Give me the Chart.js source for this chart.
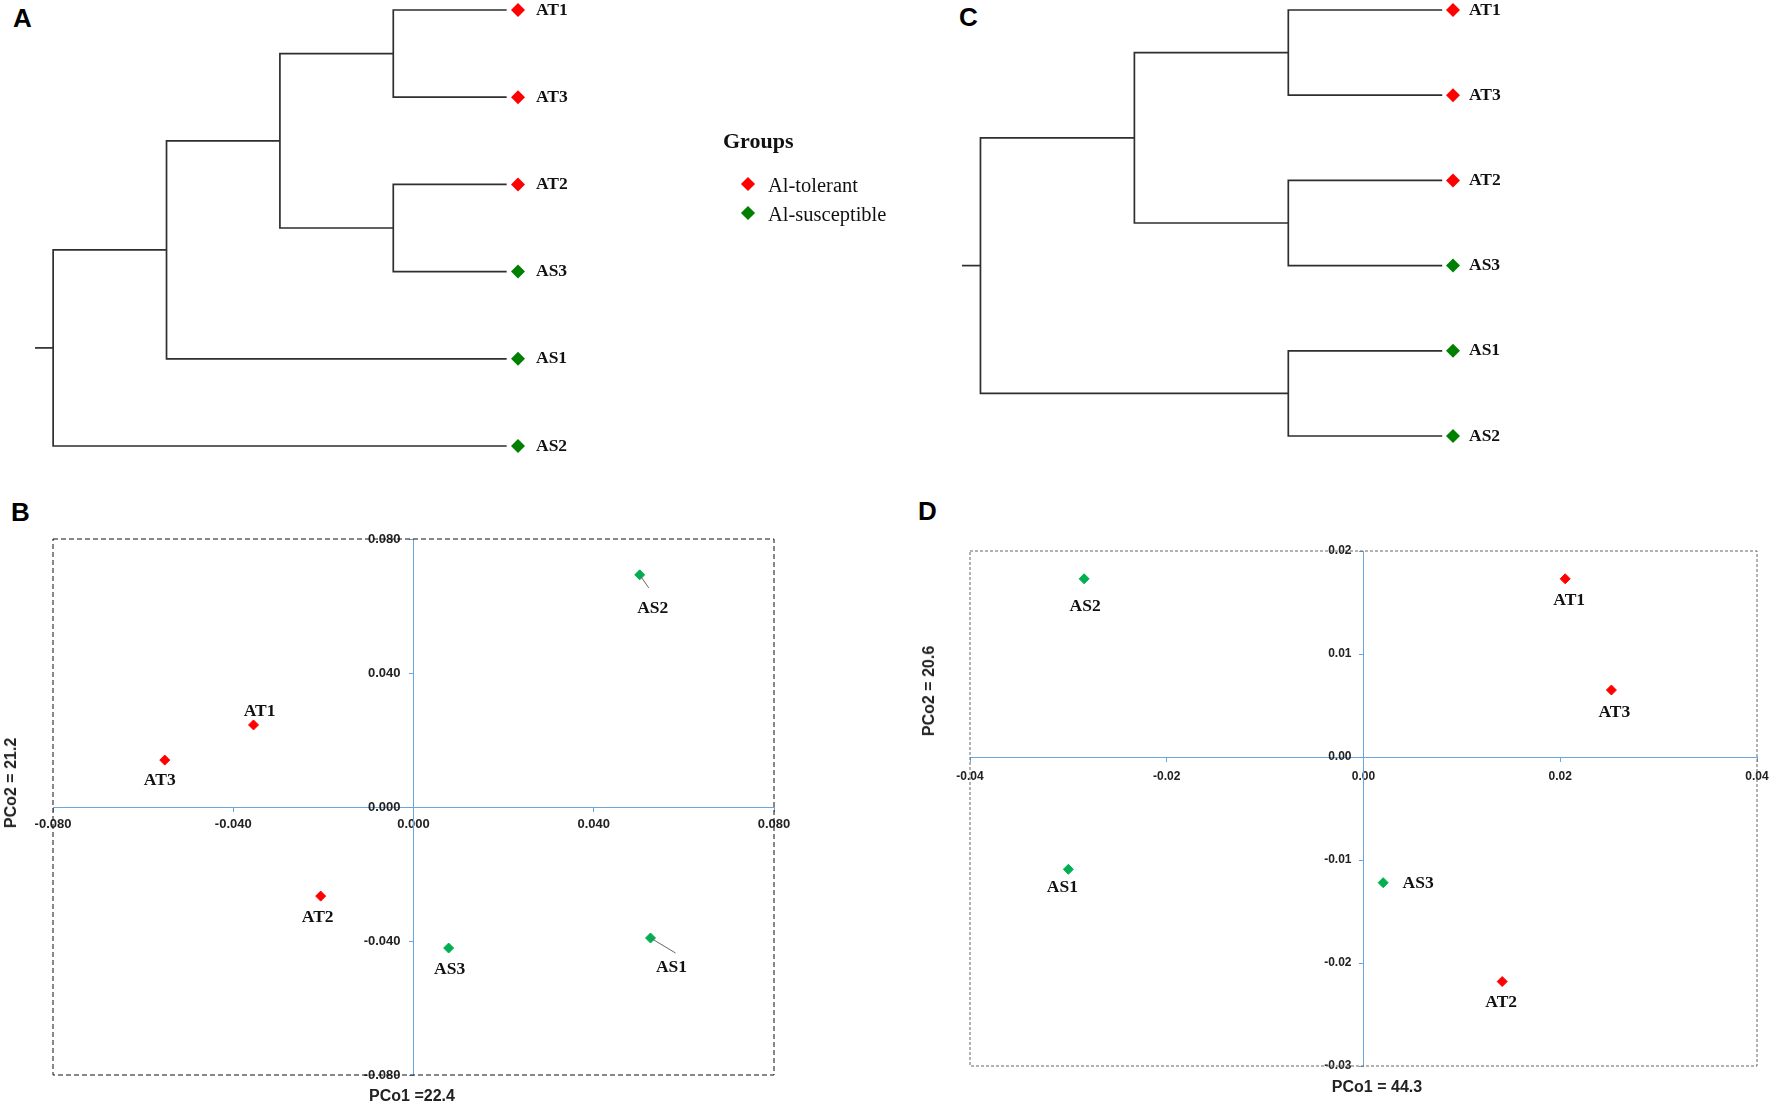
<!DOCTYPE html>
<html>
<head>
<meta charset="utf-8">
<script src="https://cdn.jsdelivr.net/npm/chart.js"></script>
<style>
  body { margin: 0; background: #fff; width: 1772px; height: 1105px; overflow: hidden; position: relative; }
  canvas { position: absolute; }
  .tag { position: absolute; font: bold 26px 'Liberation Sans', Arial, sans-serif; line-height: 26px; color: #000; }
  .ttl { position: absolute; font: bold 16px 'Liberation Sans', Arial, sans-serif; line-height: 1; color: #222; white-space: nowrap; transform: translate(-50%, -50%); }
  .ttl.rot { transform: translate(-50%, -50%) rotate(-90deg); }
  #groupsBox { position: absolute; left: 723px; top: 128px; width: 200px; font-family: 'Liberation Serif', 'Times New Roman', serif; color: #111; }
  #groupsBox .head { font-weight: bold; font-size: 22px; line-height: 26px; height: 42px; }
  #groupsBox .row { position: relative; height: 29px; line-height: 29px; font-size: 20.5px; }
  #groupsBox .mk { position: absolute; left: 20px; top: 9px; width: 10px; height: 10px; transform: rotate(45deg); }
  #groupsBox .tx { position: absolute; left: 45px; top: 1px; white-space: nowrap; }
</style>
</head>
<body>
<div class="tag" style="left:13px;top:5px">A</div>
<div class="tag" style="left:959px;top:4px">C</div>
<div class="tag" style="left:11px;top:499px">B</div>
<div class="tag" style="left:918px;top:498px">D</div>

<canvas id="dendroA" width="588" height="466" style="left:0;top:0"></canvas>
<canvas id="dendroC" width="583" height="456" style="left:940px;top:0"></canvas>
<canvas id="groups" width="10" height="10" style="left:723px;top:128px"></canvas>
<div id="groupsBox"></div>
<canvas id="pcoaB" width="801" height="596" style="left:13px;top:509px"></canvas>
<canvas id="pcoaD" width="842" height="575" style="left:930px;top:521px"></canvas>

<div class="ttl" style="left:412px;top:1096px">PCo1 =22.4</div>
<div class="ttl rot" style="left:11px;top:783px">PCo2 = 21.2</div>
<div class="ttl" style="left:1377px;top:1087px">PCo1 = 44.3</div>
<div class="ttl rot" style="left:929px;top:691px">PCo2 = 20.6</div>

<script>
const RED = '#ff0000';
const DARK_GREEN = '#008000';
const LIGHT_GREEN = '#00b050';
const BLUE = '#6aa6dc';
const LINE = '#2e2e2e';
const SERIF = "'Liberation Serif', 'Times New Roman', serif";
const SANS = "'Liberation Sans', Arial, sans-serif";

// dendrogram A: leaf order top to bottom, merges [child, child, height]
// leaves are 0..5, every merge adds the next node id
const leavesA = ['AT1', 'AT3', 'AT2', 'AS3', 'AS1', 'AS2'];
const groupsA = ['tol', 'tol', 'tol', 'sus', 'sus', 'sus'];
const mergesA = [[0, 1, 1], [2, 3, 1], [6, 7, 2], [8, 4, 3], [9, 5, 4]];
const stubA = 0.16;

// dendrogram C
const leavesC = ['AT1', 'AT3', 'AT2', 'AS3', 'AS1', 'AS2'];
const groupsC = ['tol', 'tol', 'tol', 'sus', 'sus', 'sus'];
const mergesC = [[0, 1, 1], [2, 3, 1], [4, 5, 1], [6, 7, 2], [9, 8, 3]];
const stubC = 0.12;

// PCoA B
const samplesB = ['AT1', 'AT2', 'AT3', 'AS1', 'AS2', 'AS3'];
const groupsB = ['tol', 'tol', 'tol', 'sus', 'sus', 'sus'];
const pco1B = [-0.0355, -0.0206, -0.0552, 0.0526, 0.0502, 0.0078];
const pco2B = [0.0245, -0.0266, 0.0140, -0.0391, 0.0693, -0.0421];
const xTicksB = [-0.08, -0.04, 0, 0.04, 0.08];
const yTicksB = [-0.08, -0.04, 0, 0.04, 0.08];

// PCoA D
const samplesD = ['AT1', 'AT2', 'AT3', 'AS1', 'AS2', 'AS3'];
const groupsD = ['tol', 'tol', 'tol', 'sus', 'sus', 'sus'];
const pco1D = [0.0205, 0.0141, 0.0252, -0.0300, -0.0284, 0.0020];
const pco2D = [0.0173, -0.0218, 0.0065, -0.0109, 0.0173, -0.0122];
const xTicksD = [-0.04, -0.02, 0, 0.02, 0.04];
const yTicksD = [-0.03, -0.02, -0.01, 0, 0.01, 0.02];

const groupNames = { tol: 'Al-tolerant', sus: 'Al-susceptible' };

function treeSegments(leaves, merges, stub) {
  const pos = leaves.map((_, i) => ({ x: 0, y: i }));
  const lines = [];
  merges.forEach(([a, b, h]) => {
    const p = pos[a], q = pos[b];
    lines.push([{ x: p.x, y: p.y }, { x: h, y: p.y }, { x: h, y: q.y }, { x: q.x, y: q.y }]);
    pos.push({ x: h, y: (p.y + q.y) / 2 });
  });
  const root = pos[pos.length - 1];
  lines.push([{ x: root.x, y: root.y }, { x: root.x + stub, y: root.y }]);
  return { lines, top: root.x + stub };
}

function dendro(id, leaves, groups, merges, stub, gap, padding, labelPad) {
  const tree = treeSegments(leaves, merges, stub);
  const datasets = tree.lines.map(seg => ({
    data: seg, showLine: true, borderColor: LINE, borderWidth: 1.7,
    pointRadius: 0, clip: false, borderJoinStyle: 'miter'
  }));
  datasets.push({
    data: leaves.map((n, i) => ({ x: -gap, y: i })),
    pointStyle: 'rectRot', pointRadius: 7, clip: false,
    backgroundColor: groups.map(g => g === 'tol' ? RED : DARK_GREEN),
    borderColor: groups.map(g => g === 'tol' ? RED : DARK_GREEN),
    borderWidth: 0
  });
  new Chart(document.getElementById(id), {
    type: 'scatter',
    data: { datasets },
    options: {
      responsive: false, animation: false, events: [],
      layout: { padding },
      plugins: { legend: { display: false }, tooltip: { enabled: false } },
      scales: {
        x: { type: 'linear', display: false, reverse: true, min: -gap, max: tree.top },
        y: {
          type: 'linear', position: 'right', reverse: true, min: 0, max: leaves.length - 1,
          grid: { display: false, drawTicks: false }, border: { display: false },
          afterBuildTicks: s => { s.ticks = leaves.map((n, i) => ({ value: i })); },
          afterFit: s => { s.width = 70; s.paddingTop = 0; s.paddingBottom = 0; },
          ticks: {
            padding: labelPad, crossAlign: 'near', autoSkip: false, color: '#111',
            font: { family: SERIF, size: 17.5, weight: 'bold' },
            callback: v => leaves[v]
          }
        }
      }
    }
  });
}

dendro('dendroA', leavesA, groupsA, mergesA, stubA, 0.1, { left: 35, top: 10, right: 0, bottom: 20 }, 18);
dendro('dendroC', leavesC, groupsC, mergesC, stubC, 0.07, { left: 22, top: 10, right: 0, bottom: 20 }, 16);

// "Groups" legend, built as html from the chart's own legend items
const htmlLegend = {
  id: 'htmlLegend',
  afterUpdate(chart, args, opts) {
    const box = document.getElementById(opts.containerID);
    box.innerHTML = '';
    const head = document.createElement('div');
    head.className = 'head';
    head.textContent = opts.title;
    box.appendChild(head);
    chart.options.plugins.legend.labels.generateLabels(chart).forEach(item => {
      const row = document.createElement('div');
      row.className = 'row';
      const mk = document.createElement('span');
      mk.className = 'mk';
      mk.style.background = item.fillStyle;
      const tx = document.createElement('span');
      tx.className = 'tx';
      tx.textContent = item.text;
      row.appendChild(mk);
      row.appendChild(tx);
      box.appendChild(row);
    });
  }
};

new Chart(document.getElementById('groups'), {
  type: 'scatter',
  data: {
    datasets: [
      { label: groupNames.tol, data: [], pointStyle: 'rectRot', backgroundColor: RED, borderColor: RED },
      { label: groupNames.sus, data: [], pointStyle: 'rectRot', backgroundColor: DARK_GREEN, borderColor: DARK_GREEN }
    ]
  },
  options: {
    responsive: false, animation: false, events: [],
    scales: { x: { display: false }, y: { display: false } },
    plugins: {
      tooltip: { enabled: false },
      legend: { display: false, labels: { usePointStyle: true } },
      htmlLegend: { containerID: 'groupsBox', title: 'Groups' }
    }
  },
  plugins: [htmlLegend]
});

const frame = {
  id: 'frame',
  beforeDatasetsDraw(chart, args, opts) {
    const { ctx, chartArea: a } = chart;
    ctx.save();
    ctx.strokeStyle = opts.color;
    ctx.lineWidth = 1;
    ctx.setLineDash(opts.dash);
    ctx.strokeRect(a.left, a.top, a.right - a.left, a.bottom - a.top);
    ctx.restore();
  }
};

const pointTags = {
  id: 'pointTags',
  afterDatasetsDraw(chart, args, opts) {
    const ctx = chart.ctx;
    ctx.save();
    ctx.font = 'bold 17.5px ' + SERIF;
    ctx.fillStyle = '#111';
    ctx.textAlign = 'center';
    ctx.textBaseline = 'middle';
    chart.data.datasets.forEach((ds, di) => {
      chart.getDatasetMeta(di).data.forEach((el, i) => {
        const name = ds.data[i].name;
        const off = opts.offsets[name] || [0, 18];
        const lead = opts.leaders[name];
        if (lead) {
          ctx.strokeStyle = '#666';
          ctx.lineWidth = 1;
          ctx.beginPath();
          ctx.moveTo(el.x, el.y);
          ctx.lineTo(el.x + lead[0], el.y + lead[1]);
          ctx.stroke();
        }
        ctx.fillText(name, el.x + off[0], el.y + off[1]);
      });
    });
    ctx.restore();
  }
};

// labels on the vertical zero axis sit flush on the line, so keep a gap after the number
const fmt = (d, gap) => v => (Math.abs(v) < 1e-9 ? 0 : v).toFixed(d) + gap;

function pcoa(id, samples, groups, xs, ys, xTicks, yTicks, st) {
  const pts = g => samples.map((n, i) => ({ x: xs[i], y: ys[i], name: n })).filter((p, i) => groups[i] === g);
  const dset = (g, color) => ({
    label: groupNames[g], data: pts(g), pointStyle: 'rectRot', pointRadius: 5,
    backgroundColor: color, borderColor: color, borderWidth: 1, clip: false
  });
  const zeroAxis = (ticks, horizontal) => ({
    type: 'linear', min: ticks[0], max: ticks[ticks.length - 1],
    position: horizontal ? { y: 0 } : { x: 0 },
    afterBuildTicks: s => { s.ticks = ticks.map(v => ({ value: v })); },
    afterFit: s => {
      if (horizontal) s.height = 0; else s.width = 0;
      s.paddingLeft = 0; s.paddingRight = 0; s.paddingTop = 0; s.paddingBottom = 0;
    },
    border: { display: true, color: BLUE, dash: st.blueDash, width: 1 },
    grid: { display: true, drawOnChartArea: false, drawTicks: true, tickLength: 4, color: BLUE },
    ticks: {
      autoSkip: false, maxRotation: 0, padding: st.tickPad, color: '#222',
      font: { family: SANS, size: st.tickSize, weight: 'bold' },
      callback: fmt(st.digits, horizontal ? '' : '\u2002\u2002')
    }
  });
  new Chart(document.getElementById(id), {
    type: 'scatter',
    data: { datasets: [dset('tol', RED), dset('sus', LIGHT_GREEN)] },
    options: {
      responsive: false, animation: false, events: [],
      layout: { padding: st.padding },
      scales: { x: zeroAxis(xTicks, true), y: zeroAxis(yTicks, false) },
      plugins: {
        legend: { display: false }, tooltip: { enabled: false },
        frame: { color: st.frameColor, dash: st.frameDash },
        pointTags: { offsets: st.offsets, leaders: st.leaders }
      }
    },
    plugins: [frame, pointTags]
  });
}

pcoa('pcoaB', samplesB, groupsB, pco1B, pco2B, xTicksB, yTicksB, {
  digits: 3, tickSize: 13, tickPad: 6,
  padding: { left: 40, top: 30, right: 40, bottom: 30 },
  frameColor: '#111', frameDash: [5, 3], blueDash: [1.5, 2],
  offsets: { AT1: [6, -13], AT3: [-5, 20], AT2: [-3, 21], AS3: [1, 21], AS1: [21, 29], AS2: [13, 34] },
  leaders: { AS2: [9, 13], AS1: [25, 15] }
});

pcoa('pcoaD', samplesD, groupsD, pco1D, pco2D, xTicksD, yTicksD, {
  digits: 2, tickSize: 12, tickPad: 8,
  padding: { left: 40, top: 30, right: 15, bottom: 30 },
  frameColor: '#666', frameDash: [3, 2], blueDash: [4, 3],
  offsets: { AS2: [1, 28], AT1: [4, 22], AT3: [3, 22], AS1: [-6, 18], AS3: [35, 1], AT2: [-1, 21] },
  leaders: {}
});
</script>
</body>
</html>
